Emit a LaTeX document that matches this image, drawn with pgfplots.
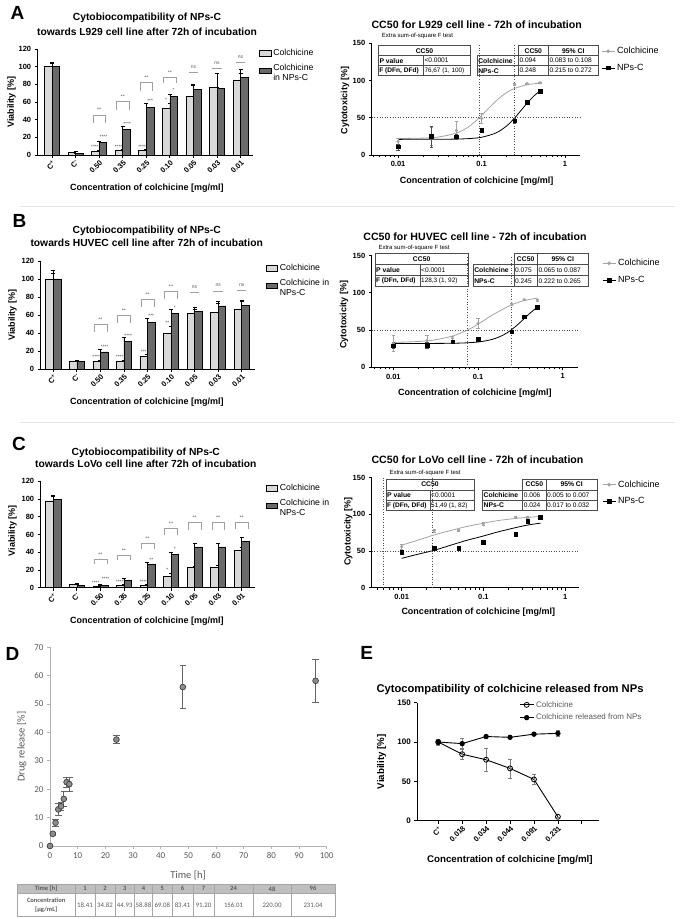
\documentclass[border=0pt]{standalone}
\usepackage{fontspec}
\setmainfont{Liberation Sans}
\newfontfamily\carl{Carlito}
\usepackage{pgfplots}
\pgfplotsset{compat=1.18}
\newcommand{\fs}[1]{\fontsize{#1}{#1}\selectfont}
\definecolor{lbar}{HTML}{D9D9D9}
\definecolor{dbar}{HTML}{6A6A6A}
\definecolor{gcur}{HTML}{A3A3A3}
\definecolor{brk}{HTML}{A0A0A0}
\definecolor{dgray}{HTML}{595959}
\definecolor{thead}{HTML}{BFBFBF}
\pgfplotsset{
 gp/.style={scale only axis, clip=false, axis lines*=left,
  axis line style={line width=0.9pt,black},
  every tick/.style={line width=0.8pt,black},
  tick align=outside, major tick length=3pt, minor tick length=2pt,
  /pgf/number format/assume math mode=true,
  ticklabel style={font=\bfseries\fs{7.5}},
  label style={font=\bfseries\fs{9}}},
 barax/.style={gp, ymin=0, ymax=120, ytick={0,20,...,120}, xtick={0,...,8},
  xticklabels={C\textsuperscript{+},C\textsuperscript{-},0.50,0.35,0.25,0.10,0.05,0.03,0.01},
  xticklabel style={rotate=45, anchor=north east, inner sep=1pt, font=\bfseries\fs{7.5}},
  legend style={draw=none, fill=none, font=\fontsize{8.7}{9.8}\selectfont, inner sep=0pt, row sep=3pt},
  legend cell align=left},
 lleg/.style={legend image code/.code={\draw[fill=lbar,draw=black,line width=0.5pt] (0pt,-2.8pt) rectangle (11.7pt,2.8pt);}},
 dleg/.style={legend image code/.code={\draw[fill=dbar,draw=black,line width=0.5pt] (0pt,-2.8pt) rectangle (11.7pt,2.8pt);}},
 eb/.style={error bars/y dir=plus, error bars/y explicit,
  error bars/error bar style={line width=0.6pt,black},
  error bars/error mark options={rotate=90,mark size=2pt,line width=0.6pt,black}},
 lb/.style={ybar, bar width=0.32, bar shift=-0.16, fill=lbar, draw=black, line width=0.6pt, forget plot, eb},
 db/.style={ybar, bar width=0.32, bar shift=0.16, fill=dbar, draw=black, line width=0.6pt, forget plot, eb},
 ccleg/.style={legend image code/.code={\draw[mark repeat=2,mark phase=2,##1] plot coordinates {(0pt,0pt) (6.5pt,0pt) (13pt,0pt)};}},
 ccax/.style={gp, ymin=0, ymax=150, ytick={0,50,100,150},
  xtick={0.01,0.1,1}, xticklabels={0.01,0.1,1},
  minor xtick={0.005,0.006,0.007,0.008,0.009,0.02,0.03,0.04,0.05,0.06,0.07,0.08,0.09,0.2,0.3,0.4,0.5,0.6,0.7,0.8,0.9},
  legend style={draw=none, fill=none, font=\fs{9}, inner sep=0pt, row sep=5pt},
  legend cell align=left, ccleg},
 gcurve/.style={gcur, line width=0.8pt, smooth, no marks, forget plot},
 bcurve/.style={black, line width=0.8pt, smooth, no marks, forget plot},
 gpts/.style={only marks, mark=*, mark size=1.4pt, gcur, forget plot,
  error bars/y dir=both, error bars/y explicit,
  error bars/error bar style={gcur,line width=0.5pt},
  error bars/error mark options={rotate=90,mark size=1.6pt,gcur,line width=0.5pt}},
 bpts/.style={only marks, mark=square*, mark size=1.8pt, black, forget plot,
  error bars/y dir=both, error bars/y explicit,
  error bars/error bar style={black!70,line width=0.5pt},
  error bars/error mark options={rotate=90,mark size=1.6pt,black!70,line width=0.5pt}},
}
% stars, brackets
\newcommand{\st}[3]{\node[inner sep=0pt, font=\fs{4.8}, text=black!75] at (axis cs:#1,#2) {#3};}
\newcommand{\brk}[3]{\draw[brk, line width=0.5pt] (axis cs:{#1-0.27},#3) |- (axis cs:{#1+0.27},#2) -- (axis cs:{#1+0.27},#3);
 \node[inner sep=0pt, font=\fs{5.3}, text=black!65] at (axis cs:#1,{#2+5.5}) {**};}
\newcommand{\nsl}[2]{\draw[brk, line width=0.5pt] (axis cs:{#1-0.2},#2) -- (axis cs:{#1+0.2},#2);
 \node[inner sep=0pt, font=\fs{5}, text=black!65] at (axis cs:#1,{#2+6}) {ns};}
% tables (in flipped scope)
\tikzset{tabl/.style={line width=0.5pt, black!70}}
\newcommand{\Ltab}[5]{%
 \pgfmathsetmacro\ra{\yt+(\yb-\yt)/3}\pgfmathsetmacro\rb{\yt+2*(\yb-\yt)/3}%
 \pgfmathsetmacro\ca{\yt+(\yb-\yt)/6}\pgfmathsetmacro\cb{\yt+(\yb-\yt)/2}\pgfmathsetmacro\cc{\yt+5*(\yb-\yt)/6}%
 \draw[tabl] (#1,\yt) rectangle (#3,\yb);
 \draw[tabl] (#1,\ra) -- (#3,\ra);
 \draw[tabl] (#1,\rb) -- (#3,\rb);
 \draw[tabl] (#2,\ra) -- (#2,\yb);
 \node[inner sep=0pt, font=\bfseries\fs{6.8}] at ({(#1+#3)/2},\ca) {CC50};
 \node[inner sep=0pt, anchor=west, font=\bfseries\fs{6.8}] at ({#1+1},\cb) {P value};
 \node[inner sep=0pt, anchor=west, font=\fs{6.6}] at ({#2+1},\cb) {#4};
 \node[inner sep=0pt, anchor=west, font=\bfseries\fs{6.6}] at ({#1+0.8},\cc) {F (DFn, DFd)};
 \node[inner sep=0pt, anchor=west, font=\fs{6.4}] at ({#2+1},\cc) {#5};
}
\newcommand{\Rtab}[8]{%
 \pgfmathsetmacro\ra{\yt+(\yb-\yt)/3}\pgfmathsetmacro\rb{\yt+2*(\yb-\yt)/3}%
 \pgfmathsetmacro\ca{\yt+(\yb-\yt)/6}\pgfmathsetmacro\cb{\yt+(\yb-\yt)/2}\pgfmathsetmacro\cc{\yt+5*(\yb-\yt)/6}%
 \draw[tabl] (#2,\yt) rectangle (#4,\ra);
 \draw[tabl] (#3,\yt) -- (#3,\ra);
 \draw[tabl] (#1,\ra) rectangle (#4,\yb);
 \draw[tabl] (#1,\rb) -- (#4,\rb);
 \draw[tabl] (#2,\ra) -- (#2,\yb);
 \draw[tabl] (#3,\ra) -- (#3,\yb);
 \node[inner sep=0pt, font=\bfseries\fs{6.8}] at ({(#2+#3)/2},\ca) {CC50};
 \node[inner sep=0pt, font=\bfseries\fs{6.8}] at ({(#3+#4)/2},\ca) {95\% CI};
 \node[inner sep=0pt, anchor=west, font=\bfseries\fs{6.8}] at ({#1+0.8},\cb) {Colchicine};
 \node[inner sep=0pt, anchor=west, font=\bfseries\fs{6.8}] at ({#1+0.8},\cc) {NPs-C};
 \node[inner sep=0pt, anchor=west, font=\fs{6.6}] at ({#2+1},\cb) {#5};
 \node[inner sep=0pt, anchor=west, font=\fs{6.6}] at ({#2+1},\cc) {#7};
 \node[inner sep=0pt, anchor=west, font=\fs{6.6}] at ({#3+1},\cb) {#6};
 \node[inner sep=0pt, anchor=west, font=\fs{6.6}] at ({#3+1},\cc) {#8};
}
\begin{document}
\begin{tikzpicture}[x=1pt,y=1pt]
\path[use as bounding box] (0,0) rectangle (685,919);

%================= A bar
\begin{axis}[barax, at={(37.7pt,764pt)}, anchor=south west, width=215.6pt, height=106pt,
  xmin=-0.61, xmax=8.54,
  xlabel={Concentration of colchicine [mg/ml]}, ylabel={Viability [\%]},
  xlabel style={at={(axis description cs:0.506,-0.311)}, anchor=center},
  ylabel style={at={(axis description cs:-0.121,0.5)}, anchor=center},
  legend style={at={(axis description cs:1.026,1.019)}, anchor=north west}]
\addlegendimage{lleg}\addlegendentry{Colchicine}
\addlegendimage{dleg}\addlegendentry{\begin{tabular}{@{}l@{}}Colchicine\\in NPs-C\end{tabular}}
\addplot[lb] coordinates {(0,100) +- (0,5) (1,3) +- (0,1) (2,4) +- (0,1) (3,5) +- (0,1) (4,5) +- (0,1) (5,52.5) +- (0,6.5) (6,66.5) +- (0,12) (7,77) +- (0,15.5) (8,85) +- (0,7)};
\addplot[db] coordinates {(0,100) +- (0,4) (1,1.5) +- (0,0.5) (2,14) +- (0,1.2) (3,29) +- (0,3.5) (4,54) +- (0,5) (5,66.5) +- (0,2) (6,74) +- (0,6) (7,75) +- (0,1.5) (8,88) +- (0,8.5)};
\st{1.82}{9.4}{****}\st{2.82}{9.4}{****}\st{3.82}{9.4}{****}\st{4.84}{62}{*}
\st{2.18}{20.7}{****}\st{3.18}{35}{****}\st{4.16}{61.5}{***}\st{5.16}{73.6}{*}
\brk{2}{45.3}{36.6}\brk{3}{60.4}{51}\brk{4}{81.9}{72.8}\brk{5}{88}{81.2}
\nsl{6}{93.6}\nsl{7}{98.2}\nsl{8}{105}
\end{axis}

%================= A CC50
\begin{semilogxaxis}[ccax, at={(371.7pt,764pt)}, anchor=south west, width=208.3pt, height=111.7pt,
  xmin=0.00483, xmax=1.51,
  xlabel={Concentration of colchicine [mg/ml]}, ylabel={Cytotoxicity [\%]},
  xlabel style={at={(axis description cs:0.504,-0.239)}, anchor=center},
  ylabel style={at={(axis description cs:-0.128,0.49)}, anchor=center},
  legend style={at={(axis description cs:1.101,0.985)}, anchor=north west}]
\addlegendimage{gcur, line width=0.8pt, mark=*, mark size=1.4pt}\addlegendentry{Colchicine}
\addlegendimage{black, line width=0.8pt, mark=square*, mark size=1.8pt}\addlegendentry{NPs-C}
\draw[dotted, line width=0.6pt, black!70] (axis cs:0.094,0) -- (axis cs:0.094,150);
\draw[dotted, line width=0.6pt, black!70] (axis cs:0.248,0) -- (axis cs:0.248,150);
\draw[dotted, line width=0.6pt, black!70] (axis cs:0.00483,50) -- (axis cs:1.51,50);
\addplot[gcurve] coordinates {(0.01,22.1) (0.02,22.7) (0.03,24.0) (0.05,29.4) (0.07,37.9) (0.094,50) (0.12,62.2) (0.16,75.7) (0.2,83.9) (0.25,89.5) (0.35,94.3) (0.5,96.5)};
\addplot[bcurve] coordinates {(0.01,21) (0.03,21.1) (0.05,21.4) (0.07,22) (0.1,23.8) (0.15,29.8) (0.2,39.1) (0.248,49.5) (0.3,60.5) (0.35,69.5) (0.42,78.9) (0.5,86)};
\addplot[gpts] coordinates {(0.01,18) +- (0,5) (0.025,25) +- (0,12) (0.05,33) +- (0,12) (0.1,49) +- (0,7) (0.25,95) +- (0,2) (0.35,96) +- (0,1) (0.5,97) +- (0,1)};
\addplot[bpts] coordinates {(0.01,11) +- (0,4) (0.025,25) +- (0,14) (0.05,24.6) +- (0,3) (0.1,33.6) +- (0,1) (0.25,46) +- (0,3) (0.35,70.5) +- (0,2) (0.5,86) +- (0,1.5)};
\end{semilogxaxis}

%================= B bar
\begin{axis}[barax, at={(40.7pt,550pt)}, anchor=south west, width=214.3pt, height=108pt,
  xmin=-0.535, xmax=8.565,
  xlabel={Concentration of colchicine [mg/ml]}, ylabel={Viability [\%]},
  xlabel style={at={(axis description cs:0.495,-0.312)}, anchor=center},
  ylabel style={at={(axis description cs:-0.131,0.5)}, anchor=center},
  legend style={at={(axis description cs:1.049,0.991)}, anchor=north west}]
\addlegendimage{lleg}\addlegendentry{Colchicine}
\addlegendimage{dleg}\addlegendentry{\begin{tabular}{@{}l@{}}Colchicine in\\NPs-C\end{tabular}}
\addplot[lb] coordinates {(0,100) +- (0,10) (1,9) +- (0,1) (2,9) +- (0,1) (3,8.5) +- (0,1) (4,14) +- (0,2) (5,40) +- (0,7) (6,62) +- (0,4) (7,63) +- (0,10) (8,66) +- (0,10)};
\addplot[db] coordinates {(0,100) +- (0,6) (1,8.5) +- (0,1) (2,19) +- (0,3) (3,31) +- (0,4) (4,52) +- (0,4) (5,62) +- (0,4) (6,64) +- (0,4) (7,70) +- (0,5) (8,70.5) +- (0,5)};
\st{1.82}{13.7}{****}\st{2.82}{13.7}{****}\st{3.84}{18.5}{***}\st{4.84}{51.5}{**}
\st{2.18}{24.8}{****}\st{3.18}{36.5}{****}\st{4.16}{59}{***}\st{5.16}{67.5}{*}
\brk{2}{49.6}{41.5}\brk{3}{59.3}{51.5}\brk{4}{77.4}{68.5}\brk{5}{86}{77.8}
\nsl{6}{84.8}\nsl{7}{86.7}\nsl{8}{87.4}
\end{axis}

%================= B CC50
\begin{semilogxaxis}[ccax, at={(371.7pt,551.7pt)}, anchor=south west, width=206pt, height=111.6pt,
  xmin=0.00556, xmax=1.50,
  xlabel={Concentration of colchicine [mg/ml]}, ylabel={Cytotoxicity [\%]},
  xlabel style={at={(axis description cs:0.501,-0.233)}, anchor=center},
  ylabel style={at={(axis description cs:-0.134,0.47)}, anchor=center},
  legend style={at={(axis description cs:1.118,0.988)}, anchor=north west}]
\addlegendimage{gcur, line width=0.8pt, mark=*, mark size=1.4pt}\addlegendentry{Colchicine}
\addlegendimage{black, line width=0.8pt, mark=square*, mark size=1.8pt}\addlegendentry{NPs-C}
\draw[dotted, line width=0.6pt, black!70] (axis cs:0.075,0) -- (axis cs:0.075,150);
\draw[dotted, line width=0.6pt, black!70] (axis cs:0.245,0) -- (axis cs:0.245,150);
\draw[dotted, line width=0.6pt, black!70] (axis cs:0.00556,50) -- (axis cs:1.50,50);
\addplot[gcurve] coordinates {(0.01,33.4) (0.02,34.7) (0.03,36.6) (0.05,42) (0.075,50) (0.1,58) (0.15,70.7) (0.25,84) (0.35,89.6) (0.5,93.1)};
\addplot[bcurve] coordinates {(0.01,32) (0.05,32.3) (0.1,34) (0.15,37.8) (0.2,43.6) (0.245,50) (0.3,58.3) (0.35,65.4) (0.42,73.7) (0.5,81)};
\addplot[gpts] coordinates {(0.01,32) +- (0,11) (0.025,36) +- (0,7) (0.05,39) +- (0,3) (0.1,59) +- (0,6.5) (0.25,85) +- (0,1.5) (0.35,91) +- (0,1) (0.5,90.5) +- (0,1.5)};
\addplot[bpts] coordinates {(0.01,29) +- (0,4) (0.025,29.5) +- (0,3.5) (0.05,34.5) +- (0,2) (0.1,37.5) +- (0,2) (0.25,48) +- (0,2) (0.35,68) +- (0,2) (0.5,80.5) +- (0,2)};
\end{semilogxaxis}

%================= C bar
\begin{axis}[barax, at={(40.7pt,331.3pt)}, anchor=south west, width=214.3pt, height=106.4pt,
  xmin=-0.535, xmax=8.565,
  xlabel={Concentration of colchicine [mg/ml]}, ylabel={Viability [\%]},
  xlabel style={at={(axis description cs:0.495,-0.319)}, anchor=center},
  ylabel style={at={(axis description cs:-0.131,0.535)}, anchor=center},
  legend style={at={(axis description cs:1.049,0.993)}, anchor=north west}]
\addlegendimage{lleg}\addlegendentry{Colchicine}
\addlegendimage{dleg}\addlegendentry{\begin{tabular}{@{}l@{}}Colchicine in\\NPs-C\end{tabular}}
\addplot[lb] coordinates {(0,98) +- (0,6) (1,4) +- (0,0.5) (2,2) +- (0,1) (3,2.5) +- (0,1) (4,2.5) +- (0,1) (5,12.5) +- (0,4) (6,22.5) +- (0,2) (7,22.5) +- (0,3) (8,42.5) +- (0,3)};
\addplot[db] coordinates {(0,99.5) +- (0,3.5) (1,3) +- (0,0.5) (2,3) +- (0,0.5) (3,8) +- (0,3) (4,26) +- (0,2.5) (5,38) +- (0,2) (6,46) +- (0,4) (7,46) +- (0,4) (8,52.5) +- (0,4)};
\st{1.8}{5.6}{****}\st{2.82}{7.1}{****}\st{3.82}{7.1}{****}\st{4.84}{20.2}{*}
\st{2.22}{9.5}{****}\st{4.16}{31.9}{**}\st{5.16}{44.2}{*}
\brk{2}{31.9}{26.6}\brk{3}{36.7}{31.1}\brk{4}{49.9}{43.5}\brk{5}{66.7}{59.2}
\brk{6}{73.5}{64.9}\brk{7}{73.5}{64.9}\brk{8}{73.5}{66.7}
\end{axis}

%================= C CC50
\begin{semilogxaxis}[ccax, at={(371.7pt,331.3pt)}, anchor=south west, width=207.3pt, height=110pt,
  xmin=0.0043, xmax=1.48,
  xlabel={Concentration of colchicine [mg/ml]}, ylabel={Cytotoxicity [\%]},
  xlabel style={at={(axis description cs:0.514,-0.227)}, anchor=center},
  ylabel style={at={(axis description cs:-0.113,0.51)}, anchor=center},
  legend style={at={(axis description cs:1.111,0.993)}, anchor=north west}]
\addlegendimage{gcur, line width=0.8pt, mark=*, mark size=1.4pt}\addlegendentry{Colchicine}
\addlegendimage{black, line width=0.8pt, mark=square*, mark size=1.8pt}\addlegendentry{NPs-C}
\draw[dotted, line width=0.6pt, black!70] (axis cs:0.006,0) -- (axis cs:0.006,150);
\draw[dotted, line width=0.6pt, black!70] (axis cs:0.024,0) -- (axis cs:0.024,150);
\draw[dotted, line width=0.6pt, black!70] (axis cs:0.0043,50) -- (axis cs:1.48,50);
\addplot[gcurve] coordinates {(0.01,58) (0.015,64) (0.025,72) (0.04,78) (0.06,83) (0.1,88) (0.15,91.5) (0.25,94.5) (0.35,96) (0.5,97)};
\addplot[bcurve] coordinates {(0.01,40) (0.015,45) (0.025,51) (0.04,58) (0.06,64) (0.1,70.5) (0.15,76) (0.25,82) (0.35,85.5) (0.5,88)};
\addplot[gpts] coordinates {(0.01,56) +- (0,3) (0.025,78) +- (0,2) (0.05,78) +- (0,1.5) (0.1,87) +- (0,2.5) (0.25,96) +- (0,1) (0.35,96) +- (0,1) (0.5,96) +- (0,1)};
\addplot[bpts] coordinates {(0.01,48) +- (0,2.5) (0.025,53.6) +- (0,2.5) (0.05,53.6) +- (0,2.5) (0.1,62) +- (0,1) (0.25,73) +- (0,1) (0.35,91) +- (0,2) (0.5,96) +- (0,1)};
\end{semilogxaxis}

%================= D
\begin{axis}[scale only axis, clip=false, at={(50pt,73pt)}, anchor=south west, width=276.7pt, height=198.7pt,
  xmin=0, xmax=100, ymin=0, ymax=70, xtick={0,10,...,100}, ytick={0,10,...,70},
  axis lines*=left, axis line style={gray!60, line width=0.8pt},
  every tick/.style={gray!60, line width=0.8pt}, tick align=outside, major tick length=3pt,
  /pgf/number format/assume math mode=true,
  ticklabel style={font=\carl\fs{9}, text=dgray},
  xlabel={Time [h]}, ylabel={Drug release [\%]},
  label style={font=\carl\fs{10.5}, text=dgray},
  xlabel style={at={(axis description cs:0.499,-0.146)}, anchor=center},
  ylabel style={at={(axis description cs:-0.102,0.5)}, anchor=center}]
\addplot[only marks, mark=*, mark size=2.9pt, mark options={fill=black!45, draw=black!75, line width=0.7pt},
  error bars/y dir=both, error bars/y explicit,
  error bars/error bar style={black!60, line width=0.7pt},
  error bars/error mark options={rotate=90, mark size=3.2pt, black!60, line width=0.7pt}]
  coordinates {(0,0) +- (0,0) (1,4.3) +- (0,0.5) (2,8.2) +- (0,1.2) (3,12.9) +- (0,2) (4,14) +- (0,1.5) (5,16.6) +- (0,2.5) (6,22.5) +- (0,1.8) (7,21.8) +- (0,2.5) (24,37.5) +- (0,1.5) (48,56) +- (0,7.5) (96,58.2) +- (0,7.6)};
\end{axis}

%================= E
\begin{axis}[gp, at={(417.3pt,98.3pt)}, anchor=south west, width=182pt, height=118pt,
  xmin=-0.875, xmax=6.73, ymin=0, ymax=150, ytick={0,50,100,150}, xtick={0,...,6},
  xticklabels={C\textsuperscript{+},0.018,0.034,0.044,0.091,0.231,{}},
  ticklabel style={font=\bfseries\fs{8}},
  xticklabel style={rotate=45, anchor=north east, inner sep=1pt, font=\bfseries\fs{7.5}},
  label style={font=\bfseries\fs{9.7}},
  xlabel={Concentration of colchicine [mg/ml]}, ylabel={Viability [\%]},
  xlabel style={at={(axis description cs:0.509,-0.333)}, anchor=center},
  ylabel style={at={(axis description cs:-0.196,0.5)}, anchor=center},
  legend style={draw=none, fill=none, font=\fs{8}, text=dgray, inner sep=0pt, row sep=1.5pt,
    at={(axis description cs:0.559,1.031)}, anchor=north west},
  legend cell align=left,
  legend image code/.code={\draw[mark repeat=2,mark phase=2,#1] plot coordinates {(0pt,0pt) (7pt,0pt) (14pt,0pt)};}]
\addplot[black, line width=0.9pt, mark=o, mark size=2.5pt, mark options={line width=0.8pt, fill=white},
  error bars/y dir=both, error bars/y explicit,
  error bars/error bar style={gray, line width=0.5pt},
  error bars/error mark options={rotate=90, mark size=2pt, gray, line width=0.5pt}]
  coordinates {(0,100) +- (0,4) (1,84.5) +- (0,6) (2,77.5) +- (0,14.5) (3,66.5) +- (0,12) (4,52.5) +- (0,6.5) (5,5) +- (0,0)};
\addlegendentry{Colchicine}
\addplot[black, line width=0.9pt, mark=*, mark size=2.2pt,
  error bars/y dir=both, error bars/y explicit,
  error bars/error bar style={gray, line width=0.5pt},
  error bars/error mark options={rotate=90, mark size=2pt, gray, line width=0.5pt}]
  coordinates {(0,100) +- (0,3) (1,98) +- (0,6.5) (2,107) +- (0,2) (3,106) +- (0,1.5) (4,110) +- (0,2) (5,111) +- (0,3.5)};
\addlegendentry{Colchicine released from NPs}
\end{axis}

%================= annotations in pixel coordinates (y down)
\begin{scope}[shift={(0,919)}, y=-1pt]
\draw[black!10, line width=0.8pt] (20,206) -- (675,206);
\draw[black!10, line width=0.8pt] (20,422) -- (675,422);
\node[font=\bfseries\fs{19}] at (17.5,13.3) {A};
\node[font=\bfseries\fs{19}] at (19.5,221) {B};
\node[font=\bfseries\fs{19}] at (19,444) {C};
\node[font=\bfseries\fs{19}] at (12.5,654) {D};
\node[font=\bfseries\fs{19}] at (366.7,652.5) {E};
\node[font=\bfseries\fs{10.3}] at (147,18.3) {Cytobiocompatibility of NPs-C};
\node[font=\bfseries\fs{10.3}] at (147,31.7) {towards L929 cell line after 72h of incubation};
\node[font=\bfseries\fs{10.3}] at (146.7,231) {Cytobiocompatibility of NPs-C};
\node[font=\bfseries\fs{10.3}] at (146.7,243.3) {towards HUVEC cell line after 72h of incubation};
\node[font=\bfseries\fs{10.3}] at (145.8,453.3) {Cytobiocompatibility of NPs-C};
\node[font=\bfseries\fs{10.3}] at (145.8,464.3) {towards LoVo cell line after 72h of incubation};
\node[font=\bfseries\fs{10.6}] at (476.7,25) {CC50 for L929 cell line - 72h of incubation};
\node[font=\bfseries\fs{10.6}] at (475,236.7) {CC50 for HUVEC cell line - 72h of incubation};
\node[font=\bfseries\fs{10.6}] at (477.5,460) {CC50 for LoVo cell line - 72h of incubation};
\node[font=\bfseries\fs{11.2}] at (510,689.3) {Cytocompatibility of colchicine released from NPs};
% F-test tables
\node[anchor=west, inner sep=0pt, font=\fs{6}] at (381.7,36) {Extra sum-of-square F test};
\def\yt{45.7}\def\yb{75.7}
\Ltab{378.3}{423.3}{470.7}{<0.0001}{76,67 (1, 100)}
\Rtab{477.3}{518.3}{548.3}{598.3}{0.094}{0.083 to 0.108}{0.248}{0.215 to 0.272}
\node[anchor=west, inner sep=0pt, font=\fs{6}] at (378.3,248.3) {Extra sum-of-square F test};
\def\yt{253.3}\def\yb{286.7}
\Ltab{375}{420}{468.3}{<0.0001}{128,3 (1, 92)}
\Rtab{473.3}{514}{537.3}{588.3}{0.075}{0.065 to 0.087}{0.245}{0.222 to 0.265}
\node[anchor=west, inner sep=0pt, font=\fs{6}] at (389.3,473.3) {Extra sum-of-square F test};
\def\yt{479.3}\def\yb{510.7}
\Ltab{386}{430}{474}{<0.0001}{51,49 (1, 82)}
\Rtab{482.7}{522.7}{546}{597.3}{0.006}{0.005 to 0.007}{0.024}{0.017 to 0.032}
% D table
\fill[thead] (17.3,884.3) rectangle (335,893.3);
\draw[gray!70, line width=0.5pt] (17.3,884.3) rectangle (335,916.7);
\draw[gray!70, line width=0.5pt] (17.3,893.3) -- (335,893.3);
\foreach \xx in {75,95,115,134.5,152.5,172,193,214,253,291}{\draw[gray!70, line width=0.5pt] (\xx,884.3) -- (\xx,916.7);}
\node[font=\carl\bfseries\fs{6.5}, text=dgray] at (46.15,888.8) {Time [h]};
\node[font=\carl\bfseries\fontsize{6.5}{8.6}\selectfont, text=dgray, align=center] at (46.15,905) {Concentration\\{[µg/mL]}};
\foreach \cx/\hh/\vv in {85/1/18.41,105/2/34.82,124.75/3/44.93,143.5/4/58.88,162.25/5/69.08,182.5/6/83.41,203.5/7/91.20,233.5/24/156.01,272/48/220.00,313/96/231.04}{
 \node[font=\carl\bfseries\fs{6.5}, text=dgray] at (\cx,888.8) {\hh};
 \node[font=\carl\fs{6.8}, text=dgray] at (\cx,905) {\vv};}
\end{scope}
\end{tikzpicture}
\end{document}
